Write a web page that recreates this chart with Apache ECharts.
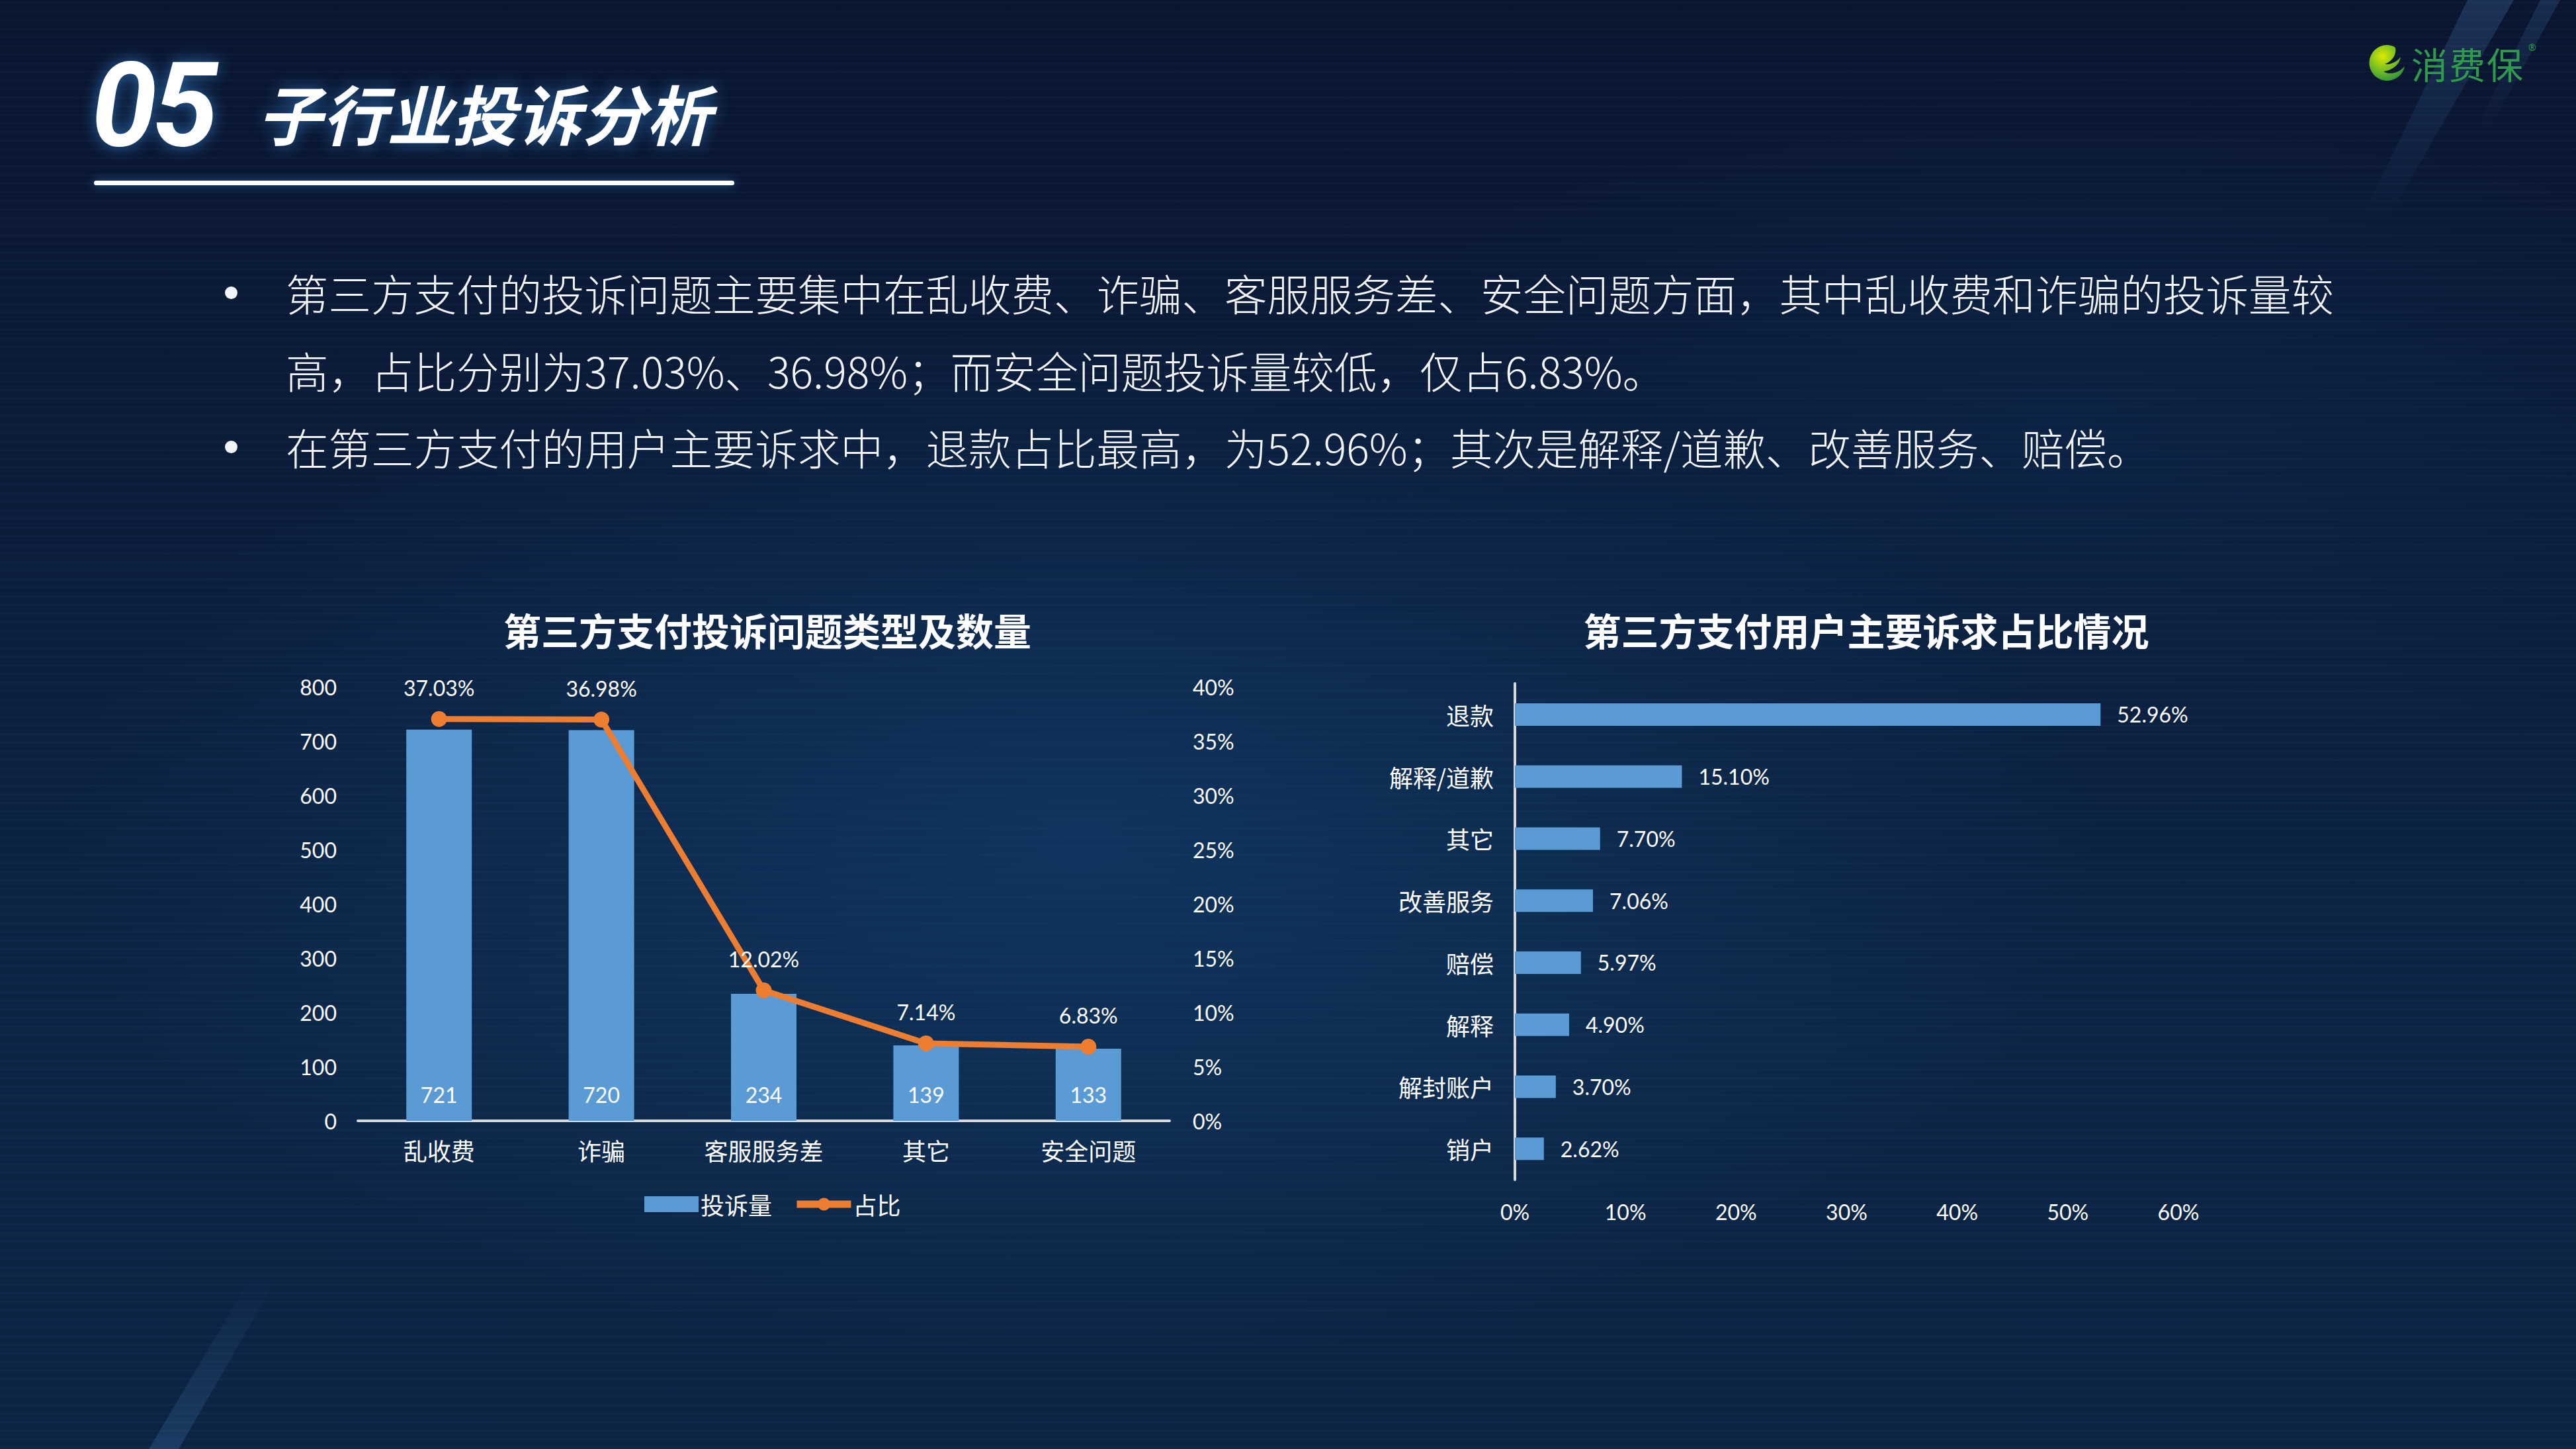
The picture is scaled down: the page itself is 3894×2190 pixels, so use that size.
<!DOCTYPE html>
<html>
<head>
<meta charset="utf-8">
<script src="https://cdn.jsdelivr.net/npm/echarts@6/dist/echarts.min.js"></script>
<style>
html,body{margin:0;padding:0;width:3894px;height:2190px;overflow:hidden;}
body{
  position:relative;
  background:
    radial-gradient(ellipse 55% 50% at 42% 58%, rgba(18,64,112,0.6), rgba(18,64,112,0) 72%),
    radial-gradient(ellipse 40% 35% at 80% 30%, rgba(14,48,88,0.35), rgba(14,48,88,0) 70%),
    repeating-linear-gradient(0deg, rgba(110,170,235,0.035) 0px, rgba(110,170,235,0.035) 3px, rgba(0,0,0,0) 3px, rgba(0,0,0,0) 13px),
    linear-gradient(180deg, #0a1530 0%, #0b1d3b 38%, #0c2545 72%, #0c2443 100%);
  font-family:"Noto Sans CJK SC","Noto Sans",sans-serif;
  color:#fff;
}
.abs{position:absolute;white-space:nowrap;}
#num{left:138px;top:70px;font:italic 700 178px/178px Roboto,"Open Sans",sans-serif;letter-spacing:-6px;text-shadow:0 0 24px rgba(70,170,255,0.55);}
#head{left:389px;top:113px;font:italic 700 98px/112px "Noto Sans CJK SC",sans-serif;text-shadow:0 0 24px rgba(70,170,255,0.55);}
#uline{left:142px;top:273px;width:968px;height:7px;border-radius:4px;background:#fff;box-shadow:0 0 14px rgba(70,170,255,0.5);}
.bl{font-size:64.5px;line-height:80px;font-weight:300;color:#f2f4f8;}
.dot{width:19px;height:19px;border-radius:50%;background:#f2f4f8;}
#logoT{left:3645px;top:62px;font:400 55px/66px "Noto Sans CJK SC",sans-serif;color:#2f9a4c;letter-spacing:2px;}
#logoR{left:3822px;top:64px;font:400 14px/16px "Noto Sans",sans-serif;color:#2f9a4c;}
#chart{position:absolute;left:0;top:0;width:3894px;height:2190px;}
</style>
</head>
<body>
<div id="chart"></div>
<div class="abs" id="num">05</div>
<div class="abs" id="head">子行业投诉分析</div>
<div class="abs" id="uline"></div>
<svg class="abs" style="left:3577px;top:64px;" width="62" height="62" viewBox="0 0 62 62">
  <defs>
    <radialGradient id="lg" cx="0.38" cy="0.32" r="0.75">
      <stop offset="0" stop-color="#e0ea00"/>
      <stop offset="0.4" stop-color="#8cc81c"/>
      <stop offset="1" stop-color="#2a9438"/>
    </radialGradient>
  </defs>
  <path d="M31 4 A27 27 0 1 0 58 36 C50 46 36 50 26 44 C40 42 50 34 52 22 C46 30 36 34 28 33 C40 28 46 18 44 8 C40 5 36 4 31 4 Z" fill="url(#lg)"/>
</svg>
<div class="abs" id="logoT">消费保</div>
<div class="abs" id="logoR">®</div>
<div class="abs dot" style="left:340px;top:433px;"></div>
<div class="abs bl" style="left:432px;top:402px;">第三方支付的投诉问题主要集中在乱收费、诈骗、客服服务差、安全问题方面，其中乱收费和诈骗的投诉量较</div>
<div class="abs bl" style="left:432px;top:519px;">高，占比分别为37.03%、36.98%；而安全问题投诉量较低，仅占6.83%。</div>
<div class="abs dot" style="left:340px;top:666px;"></div>
<div class="abs bl" style="left:432px;top:635px;">在第三方支付的用户主要诉求中，退款占比最高，为52.96%；其次是解释/道歉、改善服务、赔偿。</div>
<script>
// ---- data ----
const complaintCategories = ['乱收费', '诈骗', '客服服务差', '其它', '安全问题'];
const complaintCounts = [721, 720, 234, 139, 133];
const complaintShares = [37.03, 36.98, 12.02, 7.14, 6.83];
const demandCategories = ['退款', '解释/道歉', '其它', '改善服务', '赔偿', '解释', '解封账户', '销户'];
const demandShares = [52.96, 15.10, 7.70, 7.06, 5.97, 4.90, 3.70, 2.62];
const leftTitle = '第三方支付投诉问题类型及数量';
const rightTitle = '第三方支付用户主要诉求占比情况';

const numFont = 'Lato, "Noto Sans", sans-serif';
const cjkFont = '"Noto Sans CJK SC", sans-serif';
const BLUE = '#5B9BD5', ORANGE = '#ED7D31';

const chart = echarts.init(document.getElementById('chart'), null, {renderer: 'svg'});
chart.setOption({
  backgroundColor: 'transparent',
  animation: false,
  graphic: [
    {type: 'polygon', silent: true, z: -10, shape: {points: [[3730,0],[3800,0],[3610,330],[3570,330]]},
     style: {fill: new echarts.graphic.LinearGradient(0,0,0,1,[{offset:0,color:'rgba(90,150,220,0.22)'},{offset:1,color:'rgba(90,150,220,0)'}])}},
    {type: 'polygon', silent: true, z: -10, shape: {points: [[3840,0],[3870,0],[3760,200],[3740,200]]},
     style: {fill: new echarts.graphic.LinearGradient(0,0,0,1,[{offset:0,color:'rgba(90,150,220,0.18)'},{offset:1,color:'rgba(90,150,220,0)'}])}},
    {type: 'polygon', silent: true, z: -10, shape: {points: [[380,1930],[420,1930],[270,2190],[225,2190]]},
     style: {fill: new echarts.graphic.LinearGradient(0,0,0,1,[{offset:0,color:'rgba(90,150,220,0)'},{offset:1,color:'rgba(90,150,220,0.2)'}])}},
    {type: 'text', x: 1160, y: 951, style: {text: leftTitle, fill: '#fff', font: 'bold 57px ' + cjkFont, textAlign: 'center', textVerticalAlign: 'middle'}},
    {type: 'text', x: 2821, y: 951, style: {text: rightTitle, fill: '#fff', font: 'bold 57px ' + cjkFont, textAlign: 'center', textVerticalAlign: 'middle'}}
  ],
  legend: {
    left: 969, top: 1797,
    itemWidth: 82, itemHeight: 24, itemGap: 32,
    textStyle: {color: '#fff', fontSize: 36, fontFamily: cjkFont, padding: [0,0,0,-2]},
    data: [
      {name: '投诉量', icon: 'rect', itemStyle: {color: BLUE}},
      {name: '占比', lineStyle: {width: 11, color: ORANGE}, itemStyle: {color: ORANGE}}
    ]
  },
  grid: [
    {left: 541, top: 1038, width: 1227, height: 656},
    {left: 2290, top: 1033, width: 1003, height: 750}
  ],
  xAxis: [
    {type: 'category', gridIndex: 0, data: complaintCategories,
     axisLine: {lineStyle: {color: '#d9d9d9', width: 4}}, axisTick: {show: false},
     axisLabel: {color: '#fff', fontSize: 36, fontFamily: cjkFont, margin: 26}},
    {type: 'value', gridIndex: 1, min: 0, max: 60, interval: 10,
     axisLine: {show: false}, axisTick: {show: false}, splitLine: {show: false},
     axisLabel: {color: '#fff', fontSize: 32, fontFamily: numFont, margin: 32, formatter: '{value}%'}}
  ],
  yAxis: [
    {type: 'value', gridIndex: 0, min: 0, max: 800, interval: 100,
     axisLine: {show: false}, axisTick: {show: false}, splitLine: {show: false},
     axisLabel: {color: '#fff', fontSize: 32, fontFamily: numFont, margin: 32}},
    {type: 'value', gridIndex: 0, min: 0, max: 40, interval: 5, position: 'right',
     axisLine: {show: false}, axisTick: {show: false}, splitLine: {show: false},
     axisLabel: {color: '#fff', fontSize: 32, fontFamily: numFont, margin: 35, formatter: '{value}%'}},
    {type: 'category', gridIndex: 1, data: demandCategories, inverse: true,
     axisLine: {lineStyle: {color: '#d9d9d9', width: 4}}, axisTick: {show: false},
     axisLabel: {color: '#fff', fontSize: 36, fontFamily: cjkFont, margin: 32}}
  ],
  series: [
    {name: '投诉量', type: 'bar', xAxisIndex: 0, yAxisIndex: 0, data: complaintCounts, barWidth: 99,
     itemStyle: {color: BLUE},
     label: {show: true, position: 'insideBottom', distance: 24, color: '#fff', fontSize: 32, fontFamily: numFont}},
    {name: '占比', type: 'line', xAxisIndex: 0, yAxisIndex: 1, data: complaintShares,
     symbol: 'circle', symbolSize: 24, itemStyle: {color: ORANGE}, lineStyle: {color: ORANGE, width: 9},
     label: {show: true, position: 'top', distance: 19, color: '#fff', fontSize: 32, fontFamily: numFont,
             formatter: p => p.value.toFixed(2) + '%'}},
    {name: '诉求占比', type: 'bar', xAxisIndex: 1, yAxisIndex: 2, data: demandShares, barWidth: 34,
     itemStyle: {color: BLUE},
     label: {show: true, position: 'right', distance: 25, color: '#fff', fontSize: 32, fontFamily: numFont,
             formatter: p => p.value.toFixed(2) + '%'}}
  ]
});
</script>
</body>
</html>
